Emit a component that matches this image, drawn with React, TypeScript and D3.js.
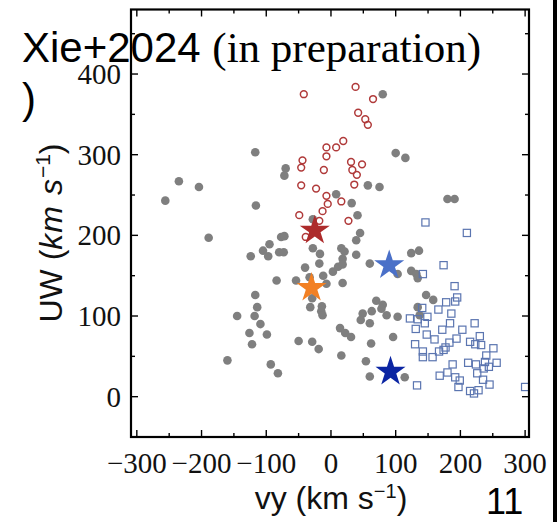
import React from 'react';
import * as d3 from 'd3';

// [vy, UW] in km/s
const grayPoints: [number, number][] = [
  [80, 375], [-117, 303], [-70, 283], [-72, 274], [57, 262], [75, 260], [-235, 267], [-204, 260],
  [-256, 243], [-116, 237], [-189, 197], [-77, 198], [-72, 199], [-95, 189], [-124, 174], [-105, 181],
  [-97, 174], [-80, 179], [-73, 179], [-28, 220], [8, 251], [32, 240], [41, 225], [-28, 184],
  [-17, 177], [-18, 165], [-40, 160], [-84, 144], [-54, 144], [-33, 148], [-12, 150], [3, 155],
  [11, 161], [16, 184], [21, 180], [18, 171], [18, 164], [18, 141], [39, 194], [39, 176],
  [45, 203], [60, 165], [124, 178], [136, 181], [124, 156], [132, 152], [134, 147], [103, 152],
  [147, 126], [158, 120], [70, 119], [80, 114], [78, 109], [63, 106], [49, 103], [46, 95],
  [60, 91], [86, 101], [103, 99], [134, 111], [137, 101], [14, 85], [22, 79], [31, 74],
  [-29, 68], [-19, 59], [-50, 69], [62, 66], [96, 74], [16, 51], [54, 44], [60, 25],
  [114, 24], [-117, 126], [-114, 111], [-145, 100], [-118, 100], [-109, 90], [-126, 79], [-99, 77],
  [-122, 65], [-160, 45], [-93, 40], [-82, 29], [-32, 111], [-14, 112], [-15, 106], [-13, 101],
  [-7, 140], [-29, 122], [100, 302], [115, 296], [180, 245], [191, 245],
];

const redCircles: [number, number][] = [
  [-42, 375], [38, 384], [65, 369], [42, 352], [53, 344], [57, 337], [19, 317], [8, 309],
  [-7, 309], [-7, 298], [-44, 293], [-46, 284], [-11, 281], [31, 291], [48, 288], [33, 281],
  [40, 275], [36, 263], [-46, 262], [-23, 258], [-7, 249], [-5, 239], [16, 242], [-13, 230],
  [-49, 225], [27, 218], [-18, 218], [-39, 198],
];

const blueSquares: [number, number][] = [
  [146, 216], [210, 203], [174, 163], [142, 152], [191, 137], [195, 123], [192, 118], [178, 117],
  [166, 108], [141, 110], [186, 103], [149, 99], [122, 97], [134, 96], [145, 91], [222, 91],
  [184, 91], [131, 84], [172, 83], [203, 83], [148, 77], [160, 71], [194, 72], [230, 75],
  [183, 67], [215, 68], [130, 65], [223, 65], [232, 64], [177, 61], [174, 58], [251, 60],
  [142, 56], [167, 56], [240, 51], [157, 49], [142, 49], [188, 40], [212, 42], [224, 40],
  [238, 43], [256, 42], [244, 37], [236, 35], [168, 26], [180, 30], [192, 24], [199, 20],
  [226, 29], [235, 21], [245, 15], [133, 14], [197, 12], [215, 7], [221, 4], [228, 8], [300, 12],
];

const stars: { vy: number; uw: number; color: string }[] = [
  { vy: -25, uw: 206, color: '#ad2b2b' },
  { vy: -30, uw: 135, color: '#f28024' },
  { vy: 90, uw: 163, color: '#4a70c8' },
  { vy: 92, uw: 31, color: '#0b25a3' },
];

const xMajor = [-300, -200, -100, 0, 100, 200, 300];
const xMinor = [-250, -150, -50, 50, 150, 250];
const yMajor = [0, 100, 200, 300, 400];
const yMinor = [50, 150, 250, 350, 450];

const fmt = (v: number) => (v < 0 ? '\u2212' + Math.abs(v) : String(v));

export default function App() {
  const L = 131, R = 529, T = 9.5, B = 437;
  const x = d3.scaleLinear().domain([-309, 306]).range([L, R]);
  const y = d3.scaleLinear().domain([-50, 480]).range([B, T]);
  const starPath = d3.symbol(d3.symbolStar, 280)()!;
  const serif = '"Liberation Serif", "Times New Roman", serif';
  const sans = '"Liberation Sans", Arial, sans-serif';
  const maj = 7, mino = 4;
  return (
    <svg width={558} height={522} style={{ position: 'absolute', left: 0, top: 0, background: '#fff' }}>
      <rect x={0} y={0} width={558} height={522} fill="#fff" />
      {grayPoints.map((d, i) => (
        <circle key={'g' + i} cx={x(d[0])} cy={y(d[1])} r={4.3} fill="#7f7f7f" />
      ))}
      {redCircles.map((d, i) => (
        <circle key={'r' + i} cx={x(d[0])} cy={y(d[1])} r={3.4} fill="none" stroke="#b03a3a" strokeWidth={1.5} />
      ))}
      {blueSquares.map((d, i) => (
        <rect key={'b' + i} x={x(d[0]) - 3.6} y={y(d[1]) - 3.6} width={7.2} height={7.2} fill="none" stroke="#5b75b0" strokeWidth={1.2} />
      ))}
      {stars.map((s, i) => (
        <path key={'s' + i} d={starPath} transform={`translate(${x(s.vy)},${y(s.uw)})`} fill={s.color} />
      ))}
      {/* ticks */}
      <g stroke="#000" strokeWidth={1.4}>
        {xMajor.map((v) => (
          <g key={'xm' + v}>
            <line x1={x(v)} x2={x(v)} y1={B} y2={B - maj} />
            <line x1={x(v)} x2={x(v)} y1={T} y2={T + maj} />
          </g>
        ))}
        {xMinor.map((v) => (
          <g key={'xn' + v}>
            <line x1={x(v)} x2={x(v)} y1={B} y2={B - mino} />
            <line x1={x(v)} x2={x(v)} y1={T} y2={T + mino} />
          </g>
        ))}
        {yMajor.map((v) => (
          <g key={'ym' + v}>
            <line x1={L} x2={L + maj} y1={y(v)} y2={y(v)} />
            <line x1={R} x2={R - maj} y1={y(v)} y2={y(v)} />
          </g>
        ))}
        {yMinor.map((v) => (
          <g key={'yn' + v}>
            <line x1={L} x2={L + mino} y1={y(v)} y2={y(v)} />
            <line x1={R} x2={R - mino} y1={y(v)} y2={y(v)} />
          </g>
        ))}
      </g>
      <rect x={L} y={T} width={R - L} height={B - T} fill="none" stroke="#000" strokeWidth={2.2} />
      {/* tick labels */}
      {xMajor.map((v) => (
        <text key={'xl' + v} x={x(v)} y={473} textAnchor="middle" fontFamily={serif} fontSize={29} fill="#111">
          {fmt(v)}
        </text>
      ))}
      {yMajor.map((v) => (
        <text key={'yl' + v} x={121} y={y(v) + 10} textAnchor="end" fontFamily={serif} fontSize={29} fill="#111">
          {fmt(v)}
        </text>
      ))}
      {/* axis labels */}
      <text x={331} y={509} textAnchor="middle" fontFamily={sans} fontSize={32} fill="#111">
        vy (km s<tspan dy={-11} fontSize={20}>{'\u22121'}</tspan>
        <tspan dy={11}>)</tspan>
      </text>
      <text transform="translate(62,233) rotate(-90)" textAnchor="middle" fontFamily={sans} fontSize={32} fill="#111">
        UW (<tspan fontStyle="italic" letterSpacing={1}>km s</tspan>
        <tspan dy={-12} fontSize={21}>{'\u22121'}</tspan>
        <tspan dy={12}>)</tspan>
      </text>
      {/* annotations */}
      <text x={22} y={62} fontFamily={sans} fontSize={42} fill="#000">
        Xie+2024 <tspan fontFamily={serif} fontSize={43}>(in preparation)</tspan>
      </text>
      <text x={22} y={113} fontFamily={sans} fontSize={42} fill="#000">)</text>
      <text x={486} y={514} fontFamily={sans} fontSize={36} fill="#000">11</text>
      <rect x={553} y={0} width={4} height={522} fill="#000" />
    </svg>
  );
}
